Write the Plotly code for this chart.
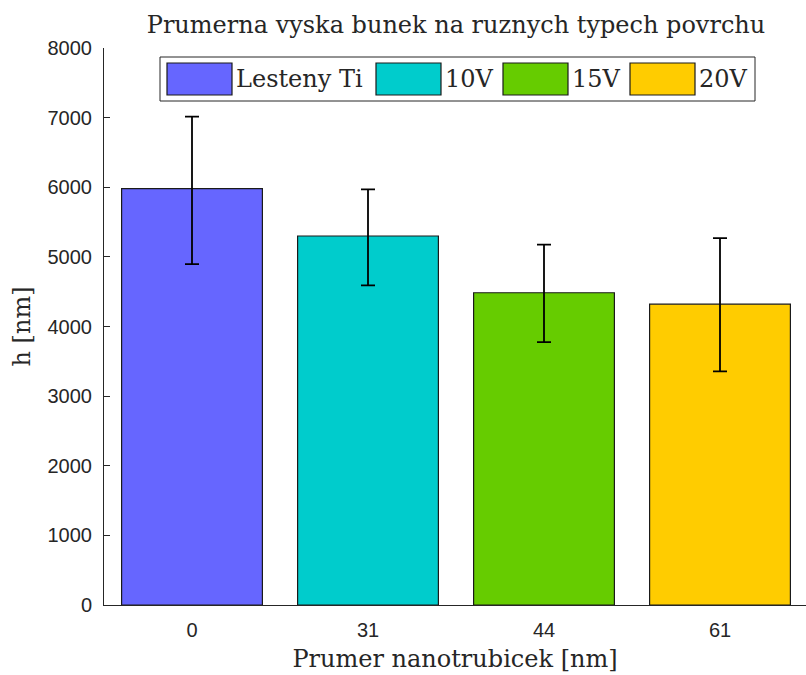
import plotly.graph_objects as go

# ---- data ----
categories = ["0", "31", "44", "61"]
series_names = ["Lesteny Ti", "10V", "15V", "20V"]
mean_h = [5980, 5300, 4485, 4320]
err_plus = [1035, 670, 690, 950]
err_minus = [1085, 710, 710, 965]
colors = ["#6666FF", "#00CCCC", "#66CC00", "#FFCC00"]

title_text = "Prumerna vyska bunek na ruznych typech povrchu"
xlabel = "Prumer nanotrubicek [nm]"
ylabel = "h [nm]"
y_ticks = [0, 1000, 2000, 3000, 4000, 5000, 6000, 7000, 8000]

W, H = 806, 675
ML, MR, MT, MB = 104, 0, 48, 70
PW = W - ML - MR
PH = H - MT - MB

serif = "DejaVu Serif"
sans = "Liberation Sans, Arial, sans-serif"
TXT = "#262626"

fig = go.Figure()
positions = list(range(1, len(categories) + 1))
for i, name in enumerate(series_names):
    fig.add_trace(go.Bar(
        x=[positions[i]], y=[mean_h[i]], name=name, width=0.8,
        marker=dict(color=colors[i], line=dict(color="#1a1a1a", width=1.2)),
        error_y=dict(type="data", symmetric=False, array=[err_plus[i]],
                     arrayminus=[err_minus[i]], color="black",
                     thickness=1.8, width=7),
        showlegend=False,
    ))

# manual MATLAB-style legend (layout decoration)
def px_x(p):
    return (p - ML) / PW

def px_y(p):
    return (H - MB - p) / PH

shapes = [dict(type="rect", xref="paper", yref="paper",
               x0=px_x(160), x1=px_x(755), y0=px_y(101), y1=px_y(57),
               line=dict(color=TXT, width=1), fillcolor="white", layer="above")]
annotations = []
patch_left = [167, 376, 503, 630]
for i, name in enumerate(series_names):
    x0 = patch_left[i]
    shapes.append(dict(type="rect", xref="paper", yref="paper",
                       x0=px_x(x0), x1=px_x(x0 + 65), y0=px_y(95), y1=px_y(63),
                       line=dict(color="#1a1a1a", width=1.2), fillcolor=colors[i],
                       layer="above"))
    annotations.append(dict(xref="paper", yref="paper", x=px_x(x0 + 67), y=px_y(79),
                            text=name, showarrow=False, xanchor="left", yanchor="middle",
                            font=dict(family=serif, size=24, color=TXT)))

fig.update_layout(
    width=W, height=H,
    margin=dict(l=ML, r=MR, t=MT, b=MB, autoexpand=False),
    paper_bgcolor="white", plot_bgcolor="white",
    bargap=0.2,
    title=dict(text=title_text, x=456 / W, xanchor="center", y=1 - 25 / H, yanchor="middle",
               font=dict(family=serif, size=24, color=TXT)),
    xaxis=dict(range=[0.5, 0.5 + PW / 176.0], tickmode="array", tickvals=positions,
               ticktext=categories, showline=True, linecolor=TXT, linewidth=1,
               ticks="", showgrid=False, zeroline=False, ticklabelstandoff=7,
               tickfont=dict(family=sans, size=20, color=TXT),
               title=dict(text=xlabel, standoff=10,
                          font=dict(family=serif, size=24, color=TXT))),
    yaxis=dict(range=[0, 8000], tickmode="array", tickvals=y_ticks,
               showline=True, linecolor=TXT, linewidth=1,
               ticks="inside", ticklen=6, tickcolor=TXT,
               showgrid=False, zeroline=False, ticklabelstandoff=7,
               tickfont=dict(family=sans, size=20, color=TXT),
               title=dict(text=ylabel, standoff=10,
                          font=dict(family=serif, size=24, color=TXT))),
    shapes=shapes, annotations=annotations,
)

fig.write_html("out.html")
